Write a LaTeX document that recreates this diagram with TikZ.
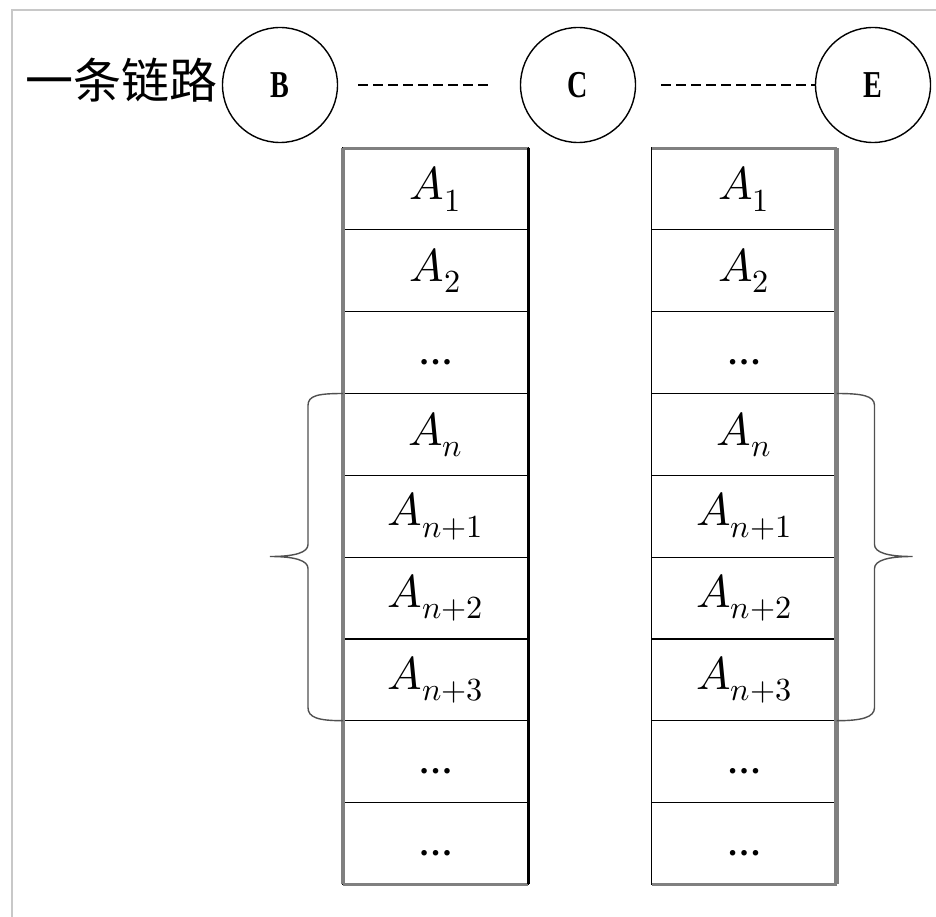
\documentclass[tikz,border=0pt]{standalone}
\usepackage{graphicx}
\usepackage{fontspec}
\usepackage{unicode-math}
\setmainfont{Liberation Serif}
\setmathfont{Latin Modern Math}
\newfontfamily\cjk{Noto Sans CJK SC}
\usetikzlibrary{positioning}
\definecolor{frameGrey}{HTML}{C8C8C8}
\definecolor{edgeGrey}{HTML}{808080}
\definecolor{braceGrey}{HTML}{505050}

% narrow bold letter inside a hop circle
\newcommand{\hoplabel}[1]{\scalebox{0.74}[1]{\bfseries #1}}
% dots for the open rows, sitting a little low like a baseline
\newcommand{\celldots}{\raisebox{-12pt}[0pt][0pt]{\bfseries\fontsize{34}{34}\selectfont\dots}}

\begin{document}
\begin{tikzpicture}[
    x=1pt, y=-1pt,
    every node/.style={font=\fontsize{46}{52}\selectfont},
    % --- node styles ---
    hop/.style={draw, circle, minimum size=115pt, inner sep=0pt,
                line width=1.4pt, font=\fontsize{38}{40}\selectfont},
    linktitle/.style={inner sep=0pt, font=\cjk\fontsize{48}{52}\selectfont},
    cell/.style={draw, line width=1.2pt, minimum width=185pt,
                 minimum height=81.8pt, inner sep=0pt, outer sep=0pt},
    % --- line styles ---
    linkdash/.style={line width=1.5pt, dash pattern=on 10pt off 5pt},
    sidegrey/.style={edgeGrey, line width=4.5pt},
    sidedark/.style={black, line width=3pt},
    rim/.style={edgeGrey, line width=3pt},
    brace/.style={braceGrey, line width=1.4pt},
    frame/.style={frameGrey, line width=1.5pt},
]
\useasboundingbox (0,0) rectangle (936,917);

% ===== FRAME ================================================================
\draw[frame] (12,917) -- (12,10) -- (936,10);

% ===== LINK =================================================================

% -- hops --
\node[hop] (nodeB) at (280,85) {\hoplabel{B}};
\node[hop] (nodeC) at (578,85) {\hoplabel{C}};
\node[hop] (nodeE) at (873,85) {\hoplabel{E}};
\node[linktitle, left=4pt of nodeB, yshift=5pt] (link) {一条链路};

% -- dashed hops --
\draw[linkdash, shorten <=20pt, shorten >=27pt] (nodeB) -- (nodeC);
\draw[linkdash, shorten <=25pt] (nodeC) -- (nodeE);

% ===== LEFT STACK ===========================================================
\node[cell] (l1) at (435.5,189) {$A_1$};
\node[cell, below=0pt of l1] (l2) {$A_2$};
\node[cell, below=0pt of l2] (l3) {\celldots};
\node[cell, below=0pt of l3] (l4) {$A_n$};
\node[cell, below=0pt of l4] (l5) {$A_{n+1}$};
\node[cell, below=0pt of l5] (l6) {$A_{n+2}$};
\node[cell, below=0pt of l6] (l7) {$A_{n+3}$};
\node[cell, below=0pt of l7] (l8) {\celldots};
\node[cell, below=0pt of l8] (l9) {\celldots};

% -- outline --
\draw[rim] (l1.north west) -- (l1.north east);
\draw[rim] (l9.south west) -- (l9.south east);
\draw[sidegrey] (l1.north west) -- (l9.south west);
\draw[sidedark] (l1.north east) -- (l9.south east);

% ===== RIGHT STACK ==========================================================
\node[cell] (r1) at (744,189) {$A_1$};
\node[cell, below=0pt of r1] (r2) {$A_2$};
\node[cell, below=0pt of r2] (r3) {\celldots};
\node[cell, below=0pt of r3] (r4) {$A_n$};
\node[cell, below=0pt of r4] (r5) {$A_{n+1}$};
\node[cell, below=0pt of r5] (r6) {$A_{n+2}$};
\node[cell, below=0pt of r6] (r7) {$A_{n+3}$};
\node[cell, below=0pt of r7] (r8) {\celldots};
\node[cell, below=0pt of r8] (r9) {\celldots};

% -- outline --
\draw[rim] (r1.north west) -- (r1.north east);
\draw[rim] (r9.south west) -- (r9.south east);
\draw[sidegrey] (r1.north east) -- (r9.south east);

% ===== BRACES ===============================================================
\draw[brace] (l4.north west)
    .. controls +(-25,0) and +(0,-10) .. ++(-35,12)
    -- ++(0,139)
    .. controls +(0,8) and +(25,0) .. ++(-38,12)
    .. controls +(25,0) and +(0,-8) .. ++(38,12)
    -- ++(0,139)
    .. controls +(0,10) and +(-25,0) .. (l7.south west);

\draw[brace] (r4.north east)
    .. controls +(25,0) and +(0,-10) .. ++(38,12)
    -- ++(0,139)
    .. controls +(0,8) and +(-25,0) .. ++(38,12)
    .. controls +(-25,0) and +(0,-8) .. ++(-38,12)
    -- ++(0,139)
    .. controls +(0,10) and +(25,0) .. (r7.south east);

\end{tikzpicture}
\end{document}
